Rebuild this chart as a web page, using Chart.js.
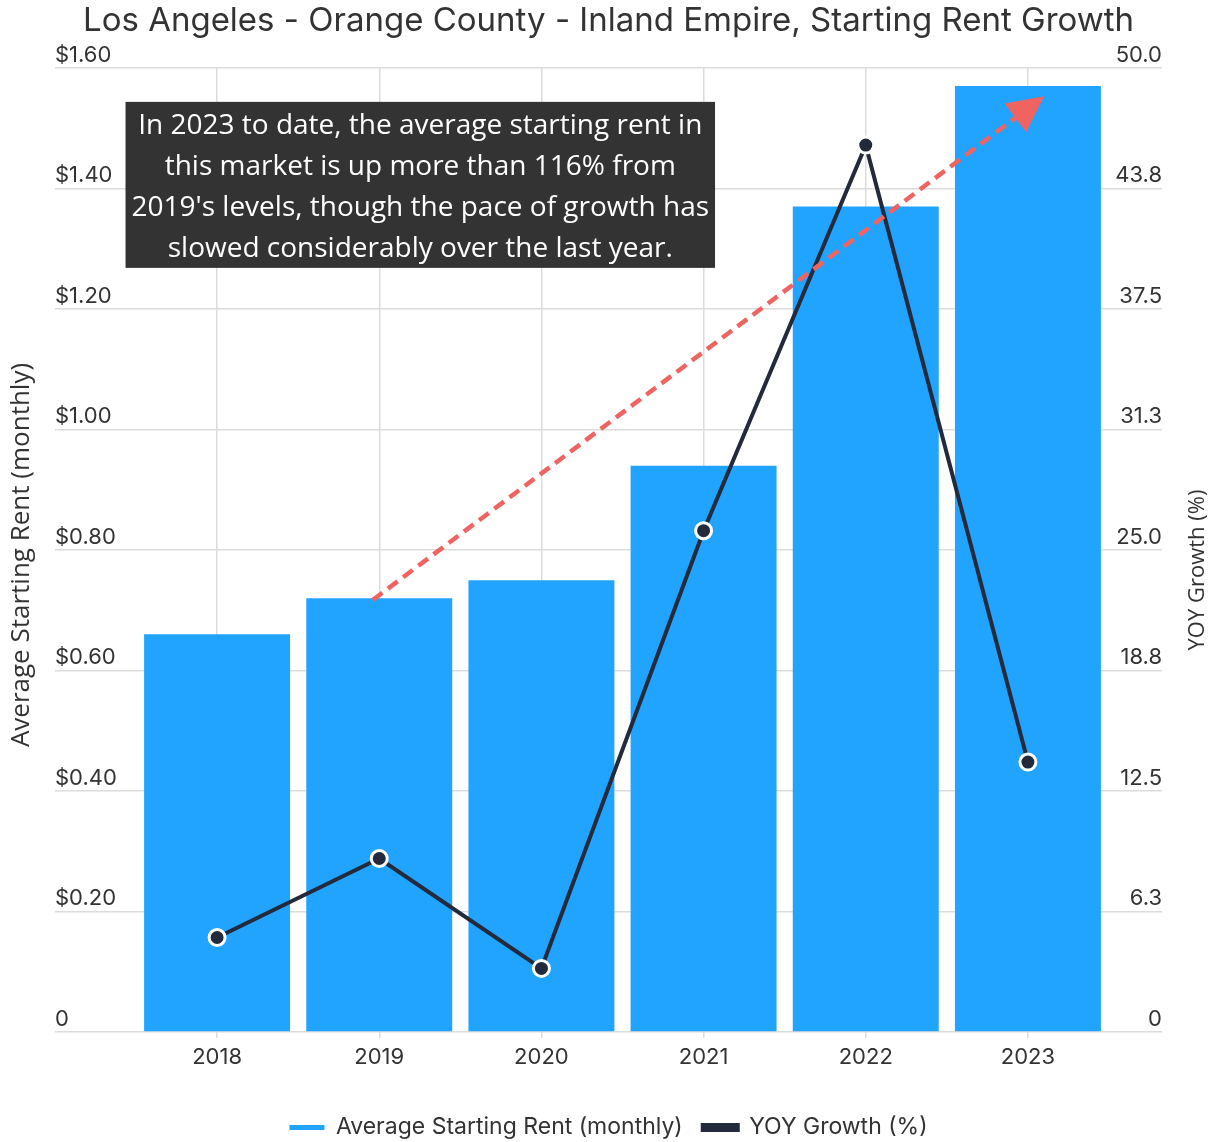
<!DOCTYPE html>
<html>
<head>
<meta charset="utf-8">
<script src="https://cdn.jsdelivr.net/npm/chart.js@4.4.1/dist/chart.umd.min.js"></script>
<style>
  html, body { margin: 0; padding: 0; background: #fff; }
  #wrap { width: 1212px; height: 1142px; position: relative; }
</style>
</head>
<body>
<div id="wrap"><canvas id="rentChart"></canvas></div>
<script>
const years = ['2018', '2019', '2020', '2021', '2022', '2023'];
const avgStartingRent = [0.66, 0.72, 0.75, 0.94, 1.37, 1.57];
const yoyGrowth = [4.9, 9.0, 3.3, 26.0, 46.0, 14.0];

const calloutLines = [
  'In 2023 to date, the average starting rent in',
  'this market is up more than 116% from',
  "2019's levels, though the pace of growth has",
  'slowed considerably over the last year.'
];
// arrow runs from the 2019 bar top up toward 2023 (category index, rent $)
const arrowFrom = [0.96, 0.717];
const arrowTo = [5.1, 1.553];
// centre of the callout box (category index, rent $)
const calloutAt = [1.253, 1.406];

const BLUE = '#20a4ff';
const NAVY = '#232a3b';
const GRID = '#dcdcdc';
const TEXT = '#333333';
const SANS = 'Inter, "DejaVu Sans", sans-serif';
const OPEN = '"Open Sans", "Noto Sans", sans-serif';

const extras = {
  id: 'extras',
  afterDatasetsDraw(chart) {
    const { ctx, scales: { x, y } } = chart;

    // dashed trend arrow
    const x0 = x.getPixelForValue(arrowFrom[0]), y0 = y.getPixelForValue(arrowFrom[1]);
    const x1 = x.getPixelForValue(arrowTo[0]), y1 = y.getPixelForValue(arrowTo[1]);
    const ang = Math.atan2(y1 - y0, x1 - x0);
    const head = 36;
    const bx = x1 - Math.cos(ang) * head, by = y1 - Math.sin(ang) * head;
    ctx.save();
    ctx.strokeStyle = '#ef6461';
    ctx.fillStyle = '#ef6461';
    ctx.lineWidth = 4.5;
    ctx.setLineDash([12, 7]);
    ctx.beginPath();
    ctx.moveTo(x0, y0);
    ctx.lineTo(bx + Math.cos(ang) * 4, by + Math.sin(ang) * 4);
    ctx.stroke();
    ctx.setLineDash([]);
    const half = 18;
    ctx.beginPath();
    ctx.moveTo(x1, y1);
    ctx.lineTo(bx + Math.sin(ang) * half, by - Math.cos(ang) * half);
    ctx.lineTo(bx - Math.sin(ang) * half, by + Math.cos(ang) * half);
    ctx.closePath();
    ctx.fill();

    // callout box
    ctx.font = '28px ' + OPEN;
    const lineH = 41;
    const w = Math.max(...calloutLines.map(l => ctx.measureText(l).width)) + 12;
    const h = calloutLines.length * lineH + 2;
    const cx = x.getPixelForValue(calloutAt[0]), cy = y.getPixelForValue(calloutAt[1]);
    ctx.fillStyle = '#333333';
    ctx.fillRect(cx - w / 2, cy - h / 2, w, h);
    ctx.fillStyle = '#ffffff';
    ctx.textAlign = 'center';
    ctx.textBaseline = 'middle';
    calloutLines.forEach((l, i) => {
      ctx.fillText(l, cx, cy - h / 2 + 3.5 + lineH * (i + 0.5));
    });
    ctx.restore();
  },
  afterDraw(chart) {
    const { ctx, chartArea } = chart;
    const midY = (chartArea.top + chartArea.bottom) / 2;
    ctx.save();
    ctx.fillStyle = TEXT;
    ctx.font = '26px ' + OPEN;
    ctx.textAlign = 'center';
    ctx.textBaseline = 'middle';
    ctx.translate(22, midY + 5);
    ctx.rotate(-Math.PI / 2);
    ctx.fillText('Average Starting Rent (monthly)', 0, 0);
    ctx.restore();

    ctx.save();
    ctx.fillStyle = TEXT;
    ctx.font = '22px ' + OPEN;
    ctx.textAlign = 'center';
    ctx.textBaseline = 'middle';
    ctx.translate(1198, midY + 20);
    ctx.rotate(-Math.PI / 2);
    ctx.fillText('YOY Growth (%)', 0, 0);
    ctx.restore();
  }
};

new Chart(document.getElementById('rentChart'), {
  data: {
    labels: years,
    datasets: [
      {
        type: 'bar',
        label: 'Average Starting Rent (monthly)',
        data: avgStartingRent,
        backgroundColor: BLUE,
        borderWidth: 0,
        barPercentage: 0.9,
        categoryPercentage: 1,
        yAxisID: 'y',
        order: 1
      },
      {
        type: 'line',
        label: 'YOY Growth (%)',
        data: yoyGrowth,
        borderColor: NAVY,
        backgroundColor: NAVY,
        borderWidth: 4,
        pointRadius: 8,
        pointBackgroundColor: NAVY,
        pointBorderColor: '#ffffff',
        pointBorderWidth: 3,
        tension: 0,
        yAxisID: 'y1',
        order: 0
      }
    ]
  },
  options: {
    responsive: true,
    maintainAspectRatio: false,
    animation: false,
    layout: { padding: { left: 55, right: 50, top: 0, bottom: -7 } },
    plugins: {
      title: {
        display: true,
        text: 'Los Angeles - Orange County - Inland Empire, Starting Rent Growth',
        color: TEXT,
        font: { family: SANS, size: 33, weight: 'normal' },
        padding: { top: 1, bottom: 27.4 }
      },
      legend: {
        position: 'bottom',
        labels: {
          color: TEXT,
          font: { family: SANS, size: 23 },
          boxWidth: 35,
          boxHeight: 5,
          padding: 20,
          sort: (a, b) => a.datasetIndex - b.datasetIndex
        }
      },
      tooltip: { enabled: false }
    },
    scales: {
      x: {
        grid: { offset: false, color: GRID, lineWidth: 1.5, tickLength: 6 },
        border: { display: false },
        ticks: { color: TEXT, font: { family: SANS, size: 22 }, padding: 6 },
        afterFit: s => { s.height = 64; }
      },
      y: {
        position: 'left',
        min: 0,
        max: 1.6,
        grid: { color: GRID, lineWidth: 1.5, tickLength: 81 },
        border: { display: false },
        ticks: {
          stepSize: 0.2,
          color: TEXT,
          font: { family: SANS, size: 22 },
          crossAlign: 'far',
          labelOffset: -13,
          padding: 0,
          callback: v => (v === 0 ? '0' : '$' + v.toFixed(2))
        },
        afterFit: s => { s.width = 81; }
      },
      y1: {
        position: 'right',
        min: 0,
        max: 50,
        grid: { drawOnChartArea: false, color: GRID, lineWidth: 1.5, tickLength: 53 },
        border: { display: false },
        ticks: {
          stepSize: 6.25,
          color: TEXT,
          font: { family: SANS, size: 22 },
          crossAlign: 'far',
          labelOffset: -13,
          padding: 0,
          callback: v => (v === 0 ? '0' : v.toFixed(1))
        },
        afterFit: s => { s.width = 53; }
      }
    }
  },
  plugins: [extras]
});
</script>
</body>
</html>
